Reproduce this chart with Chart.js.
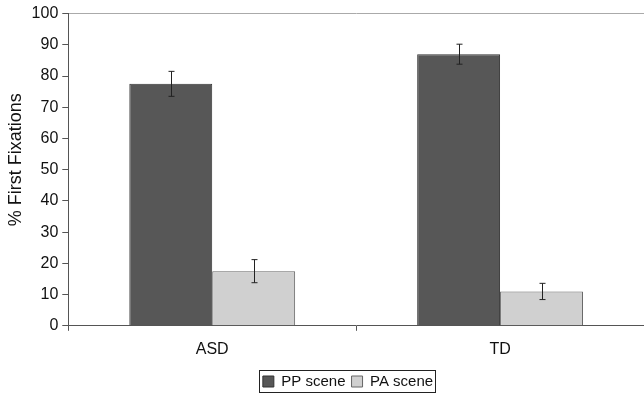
<!DOCTYPE html>
<html>
<head>
<meta charset="utf-8">
<script src="https://cdn.jsdelivr.net/npm/chart.js@4.4.0/dist/chart.umd.min.js"></script>
<style>
  html, body { margin: 0; padding: 0; background: #fff; }
  #wrap { width: 644px; height: 395px; }
</style>
</head>
<body>
<div id="wrap"><canvas id="chart"></canvas></div>
<script>
const groups = ['ASD', 'TD'];
const ppScene = [77.5, 87.0];
const paScene = [17.5, 11.0];
const ppError = [4.0, 3.2];
const paError = [3.7, 2.6];

// draws the error bars on top of each bar
const errorBars = {
  id: 'errorBars',
  afterDatasetsDraw(chart) {
    const ctx = chart.ctx;
    const y = chart.scales.y;
    const errs = [ppError, paError];
    ctx.save();
    ctx.strokeStyle = '#222';
    ctx.lineWidth = 1;
    chart.data.datasets.forEach(function(ds, i) {
      chart.getDatasetMeta(i).data.forEach(function(bar, j) {
        const v = ds.data[j];
        const e = errs[i][j];
        const x = Math.round(bar.x) + 0.5;
        const top = y.getPixelForValue(v + e);
        const bot = y.getPixelForValue(v - e);
        ctx.beginPath();
        ctx.moveTo(x, top); ctx.lineTo(x, bot);
        ctx.moveTo(x - 3, top); ctx.lineTo(x + 3, top);
        ctx.moveTo(x - 3, bot); ctx.lineTo(x + 3, bot);
        ctx.stroke();
      });
    });
    ctx.restore();
  }
};

// legend sits a bit right of centre, with a border round it
const legendBox = {
  id: 'legendBox',
  afterLayout(chart) {
    chart.legend.left += 24;
    chart.legend.right += 24;
  },
  afterDraw(chart) {
    const l = chart.legend;
    if (!l || !l.legendHitBoxes.length) return;
    const first = l.legendHitBoxes[0];
    const last = l.legendHitBoxes[l.legendHitBoxes.length - 1];
    const ctx = chart.ctx;
    ctx.save();
    ctx.strokeStyle = '#222';
    ctx.lineWidth = 1;
    ctx.strokeRect(Math.round(first.left - 4) + 0.5, Math.round(first.top - 4) + 0.5,
      Math.round(last.left + last.width - first.left + 6), Math.round(first.height + 7));
    ctx.restore();
  }
};

const font = 'Liberation Sans, Arial, sans-serif';

new Chart(document.getElementById('chart'), {
  type: 'bar',
  data: {
    labels: groups,
    datasets: [{
      label: 'PP scene',
      data: ppScene,
      backgroundColor: '#575757',
      borderColor: '#333',
      borderWidth: 1,
      categoryPercentage: 0.576,
      barPercentage: 1
    }, {
      label: 'PA scene',
      data: paScene,
      backgroundColor: '#d0d0d0',
      borderColor: '#666',
      borderWidth: 1,
      categoryPercentage: 0.576,
      barPercentage: 1
    }]
  },
  options: {
    responsive: true,
    maintainAspectRatio: false,
    animation: false,
    layout: { padding: { top: 12, right: 0, left: 4, bottom: -4 } },
    plugins: {
      tooltip: { enabled: false },
      legend: {
        position: 'bottom',
        labels: {
          boxWidth: 11,
          boxHeight: 11,
          padding: 6,
          color: '#111',
          font: { family: font, size: 15 }
        }
      }
    },
    scales: {
      x: {
        grid: { offset: true, drawOnChartArea: false, tickLength: 5, tickColor: '#555' },
        border: { color: '#555' },
        ticks: { color: '#111', padding: 9, font: { family: font, size: 16 } }
      },
      y: {
        min: 0,
        max: 100,
        ticks: { stepSize: 10, color: '#111', padding: 4, font: { family: font, size: 16 } },
        grid: {
          color: function(c) { return c.tick && c.tick.value === 100 ? '#aaa' : 'transparent'; },
          tickColor: '#555',
          tickLength: 6
        },
        border: { color: '#555' },
        title: {
          display: true,
          text: '    % First Fixations',
          color: '#111',
          padding: 1,
          font: { family: font, size: 18 }
        }
      }
    }
  },
  plugins: [errorBars, legendBox]
});
</script>
</body>
</html>
